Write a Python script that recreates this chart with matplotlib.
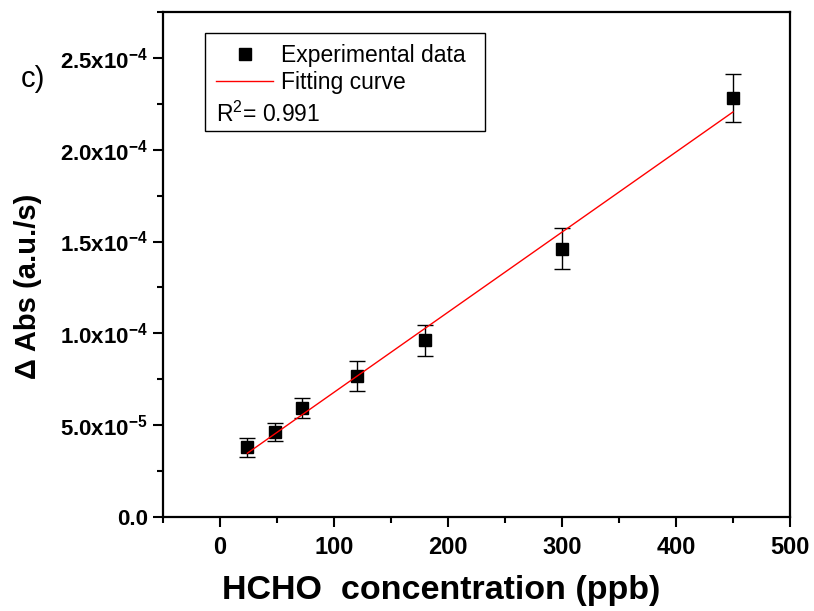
import matplotlib.pyplot as plt
import numpy as np
from matplotlib.patches import Rectangle
from matplotlib.lines import Line2D

plt.rcParams['font.family'] = ['Liberation Sans', 'DejaVu Sans']
plt.rcParams['mathtext.default'] = 'regular'

# data
conc = [24, 48, 72, 120, 180, 300, 450]
dabs = [3.80e-5, 4.62e-5, 5.92e-5, 7.66e-5, 9.62e-5, 1.462e-4, 2.283e-4]
err = [5.2e-6, 4.9e-6, 5.4e-6, 8.2e-6, 8.4e-6, 1.14e-5, 1.3e-5]

yticks = [0, 5e-5, 1e-4, 1.5e-4, 2e-4, 2.5e-4]
ylabels = ['0.0', '5.0x10$^{-5}$', '1.0x10$^{-4}$', '1.5x10$^{-4}$',
           '2.0x10$^{-4}$', '2.5x10$^{-4}$']
xticks = [0, 100, 200, 300, 400, 500]

# linear fit
k, b = np.polyfit(conc, dabs, 1)
xf = np.array([conc[0], conc[-1]])

fig = plt.figure(figsize=(8.14, 6.11), dpi=100)
ax = fig.add_axes([0.2002, 0.1538, 0.7703, 0.8266])

ax.errorbar(conc, dabs, yerr=err, fmt='none', ecolor='black', elinewidth=1,
            capsize=5.5, capthick=1, zorder=2)
ax.plot(conc, dabs, 's', color='black', markersize=8.5, zorder=3)
ax.plot(xf, k * xf + b, color='red', linewidth=1, zorder=4)

ax.set_xlim(-50, 500)
ax.set_ylim(0, 2.75e-4)
ax.set_xticks(xticks)
ax.set_xticks(np.arange(-50, 501, 50), minor=True)
ax.set_yticks(yticks)
ax.set_yticklabels(ylabels)
ax.set_yticks(np.arange(0, 2.76e-4, 2.5e-5), minor=True)

for s in ax.spines.values():
    s.set_linewidth(1.6)
ax.tick_params(which='major', direction='out', length=7, width=1.5, pad=4)
ax.tick_params(which='minor', direction='out', length=4, width=1.5)
ax.tick_params(axis='x', labelsize=17, pad=7)
ax.tick_params(axis='y', labelsize=16)
for lab in ax.get_xticklabels() + ax.get_yticklabels():
    lab.set_fontweight('bold')

ax.set_xlabel('HCHO  concentration (ppb)', fontsize=24.5, fontweight='bold')
ax.xaxis.set_label_coords(0.443, -0.115)
ax.set_ylabel('Δ Abs (a.u./s)', fontsize=21, fontweight='bold')
ax.yaxis.set_label_coords(-0.193, 0.457)

# legend box with R^2 line
ax.add_patch(Rectangle((0.067, 0.764), 0.447, 0.194, transform=ax.transAxes,
                       fill=False, edgecolor='black', linewidth=1, zorder=5))
handles = [Line2D([], [], marker='s', color='black', linestyle='none',
                  markersize=8),
           Line2D([], [], color='red', linewidth=1)]
ax.legend(handles, ['Experimental data', 'Fitting curve'], loc='upper left',
          bbox_to_anchor=(0.07, 0.955), frameon=False, fontsize=16.5,
          handlelength=2.5, handletextpad=0.35, labelspacing=0.2,
          borderaxespad=0)
ax.text(0.085, 0.783, 'R$^2$= 0.991', transform=ax.transAxes, fontsize=16.5)

fig.text(0.025, 0.857, 'c)', fontsize=21, va='baseline')

fig.savefig('out.png', dpi=100)
